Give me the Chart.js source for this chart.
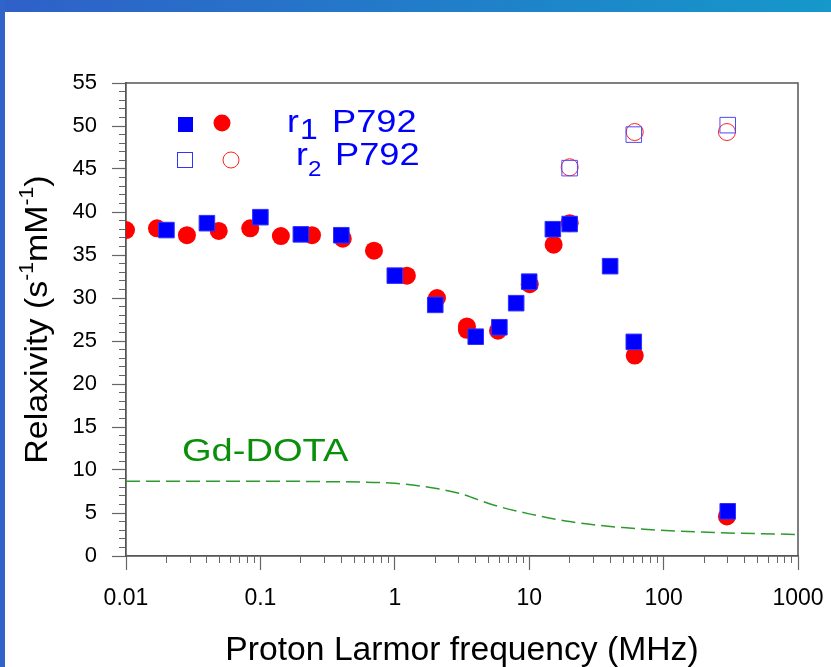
<!DOCTYPE html>
<html>
<head>
<meta charset="utf-8">
<script src="https://cdn.jsdelivr.net/npm/chart.js@4"></script>
<style>
  body { margin: 0; background: #fff; }
  #wrap { position: relative; width: 831px; height: 667px; overflow: hidden; background: #fff; }
  .band-top { position: absolute; left: 0; top: 0; width: 831px; height: 12px; background: linear-gradient(90deg, #2f60c8, #1598ca); }
  .band-left { position: absolute; left: 0; top: 0; width: 5px; height: 667px; background: #3064c9; }
  canvas { position: absolute; left: 0; top: 0; }
</style>
</head>
<body>
<div id="wrap">
  <div class="band-top"></div>
  <div class="band-left"></div>
  <canvas id="relaxChart" width="831" height="667"></canvas>
</div>
<script>
// r1 P792, filled squares
const r1SquareFreq = [0.02, 0.04, 0.1, 0.2, 0.4, 1.0, 2.0, 4.0, 6.0, 8.0, 10, 15, 20, 40, 60, 300];
const r1SquareVal  = [37.9, 38.7, 39.4, 37.4, 37.3, 32.6, 29.2, 25.5, 26.6, 29.4, 31.9, 38.0, 38.6, 33.7, 24.9, 5.2];
// r1 P792, filled circles
const r1CircleFreq = [0.01, 0.017, 0.0284, 0.049, 0.084, 0.142, 0.242, 0.41, 0.7, 1.23, 2.06, 3.44, 3.44, 5.86, 10.1, 15.2, 20, 61, 296];
const r1CircleVal  = [37.9, 38.1, 37.3, 37.8, 38.1, 37.2, 37.3, 36.9, 35.5, 32.6, 30.0, 26.7, 26.3, 26.2, 31.6, 36.2, 38.7, 23.3, 4.6];
// r2 P792, open squares / open circles
const r2SquareFreq = [20, 60, 300];
const r2SquareVal  = [45.1, 49.0, 50.1];
const r2CircleFreq = [20, 61, 296];
const r2CircleVal  = [45.2, 49.3, 49.3];
// Gd-DOTA reference curve
const dotaFreq = [0.01, 0.1, 0.3, 1, 1.6, 3, 5.5, 10, 20, 50, 175, 1000];
const dotaVal  = [8.7, 8.7, 8.65, 8.45, 8.1, 7.3, 5.9, 4.9, 4.0, 3.3, 2.8, 2.5];
// axes
const xDecades = [0.01, 0.1, 1, 10, 100, 1000];
const yMajor = 5;

const FONT = "'Liberation Sans', Arial, sans-serif";

function toPoints(xs, ys) {
    return xs.map((x, i) => ({ x: x, y: ys[i] }));
}

// minor log ticks 2..9 in each decade
const xMinor = [];
xDecades.slice(0, -1).forEach(d => {
    for (let k = 2; k <= 9; k++) xMinor.push(+(d * k).toPrecision(3));
});

// text stretched a bit wider, like the original slide
function wideText(ctx, txt, x, y, sx) {
    ctx.save();
    ctx.translate(x, y);
    ctx.scale(sx, 1);
    ctx.fillText(txt, 0, 0);
    ctx.restore();
}

// frame, titles, legend and label drawn on top
const decorPlugin = {
    id: 'decor',
    afterDraw(chart) {
        const ctx = chart.ctx;
        const a = chart.chartArea;
        ctx.save();
        // top and right frame
        ctx.strokeStyle = '#555';
        ctx.lineWidth = 1.5;
        ctx.beginPath();
        ctx.moveTo(a.left, a.top);
        ctx.lineTo(a.right, a.top);
        ctx.lineTo(a.right, a.bottom);
        ctx.stroke();

        // x title
        ctx.fillStyle = '#000';
        ctx.font = '33px ' + FONT;
        ctx.textAlign = 'center';
        ctx.textBaseline = 'alphabetic';
        wideText(ctx, 'Proton Larmor frequency (MHz)', (a.left + a.right) / 2, 660, 1.02);

        // y title with superscripts
        const parts = [
            { t: 'Relaxivity (s', sup: false },
            { t: '-1', sup: true },
            { t: 'mM', sup: false },
            { t: '-1', sup: true },
            { t: ')', sup: false }
        ];
        const sx = 1.06;
        let total = 0;
        parts.forEach(p => {
            ctx.font = (p.sup ? '20px ' : '32px ') + FONT;
            p.w = ctx.measureText(p.t).width * sx;
            total += p.w;
        });
        ctx.translate(47, (a.top + a.bottom) / 2);
        ctx.rotate(-Math.PI / 2);
        ctx.textAlign = 'left';
        let px = -total / 2;
        parts.forEach(p => {
            ctx.font = (p.sup ? '20px ' : '32px ') + FONT;
            wideText(ctx, p.t, px, p.sup ? -14 : 0, sx);
            px += p.w;
        });
        ctx.setTransform(1, 0, 0, 1, 0, 0);

        // Gd-DOTA label
        ctx.fillStyle = '#0a8f0a';
        ctx.font = '32px ' + FONT;
        ctx.textAlign = 'left';
        wideText(ctx, 'Gd-DOTA', a.left + 56, 461, 1.19);

        // legend
        ctx.fillStyle = '#0000ff';
        ctx.fillRect(178, 117, 15, 15);
        ctx.fillStyle = '#ff0000';
        ctx.beginPath();
        ctx.arc(222, 123, 8.5, 0, Math.PI * 2);
        ctx.fill();
        ctx.strokeStyle = '#3333ff';
        ctx.lineWidth = 1;
        ctx.strokeRect(177.5, 152.5, 15, 15);
        ctx.strokeStyle = '#ff2020';
        ctx.beginPath();
        ctx.arc(231, 160, 8, 0, Math.PI * 2);
        ctx.stroke();

        ctx.fillStyle = '#0000ff';
        ctx.font = '31px ' + FONT;
        wideText(ctx, 'r', 287, 132, 1.15);
        wideText(ctx, 'P792', 332, 132, 1.17);
        ctx.font = '29px ' + FONT;
        wideText(ctx, '1', 300, 139, 1.1);
        ctx.font = '31px ' + FONT;
        wideText(ctx, 'r', 296, 165, 1.15);
        wideText(ctx, 'P792', 335, 165, 1.17);
        ctx.font = '22px ' + FONT;
        wideText(ctx, '2', 308, 176, 1.1);
        ctx.restore();
    }
};

function noSidePadding(s) {
    s.paddingLeft = 0;
    s.paddingRight = 0;
}

new Chart(document.getElementById('relaxChart'), {
    type: 'scatter',
    data: {
        datasets: [
            {
                label: 'r1 P792 (squares)',
                data: toPoints(r1SquareFreq, r1SquareVal),
                pointStyle: 'rect',
                pointRadius: 11,
                backgroundColor: '#0000ff',
                borderColor: '#3030ff',
                borderWidth: 1
            },
            {
                label: 'r2 P792 (squares)',
                data: toPoints(r2SquareFreq, r2SquareVal),
                pointStyle: 'rect',
                pointRadius: 11,
                backgroundColor: 'rgba(0,0,0,0)',
                borderColor: '#4a4aff',
                borderWidth: 1
            },
            {
                label: 'r1 P792 (circles)',
                data: toPoints(r1CircleFreq, r1CircleVal),
                pointStyle: 'circle',
                pointRadius: 9,
                backgroundColor: '#ff0000',
                borderColor: '#ff0000',
                borderWidth: 0
            },
            {
                label: 'r2 P792 (circles)',
                data: toPoints(r2CircleFreq, r2CircleVal),
                pointStyle: 'circle',
                pointRadius: 8.5,
                backgroundColor: 'rgba(0,0,0,0)',
                borderColor: '#ff2020',
                borderWidth: 1
            },
            {
                label: 'Gd-DOTA',
                data: toPoints(dotaFreq, dotaVal),
                showLine: true,
                pointRadius: 0,
                borderColor: '#2e9a2e',
                borderWidth: 1.5,
                borderDash: [14, 6],
                cubicInterpolationMode: 'monotone',
                fill: false
            }
        ]
    },
    options: {
        responsive: false,
        animation: false,
        events: [],
        layout: { padding: { left: 0, top: 83, right: 33, bottom: 0 } },
        plugins: {
            legend: { display: false },
            tooltip: { enabled: false }
        },
        scales: {
            x: {
                type: 'logarithmic',
                position: 'bottom',
                weight: 1,
                min: 0.01,
                max: 1000,
                afterBuildTicks: s => { s.ticks = xDecades.map(v => ({ value: v })); },
                afterFit: s => { s.height = 111; noSidePadding(s); },
                border: { color: '#555', width: 1.5 },
                grid: { drawOnChartArea: false, tickLength: 14, color: '#666', tickWidth: 1.2 },
                ticks: {
                    autoSkip: false,
                    maxRotation: 0,
                    padding: 15,
                    color: '#000',
                    font: { family: FONT, size: 23 },
                    callback: v => String(v)
                }
            },
            xMinor: {
                type: 'logarithmic',
                position: 'bottom',
                weight: 0,
                min: 0.01,
                max: 1000,
                afterBuildTicks: s => { s.ticks = xMinor.map(v => ({ value: v })); },
                afterFit: s => { s.height = 0; noSidePadding(s); },
                border: { color: '#555', width: 1.5 },
                grid: { drawOnChartArea: false, tickLength: 7, color: '#666' },
                ticks: { display: false }
            },
            y: {
                type: 'linear',
                position: 'left',
                weight: 1,
                min: 0,
                max: 55,
                afterFit: s => { s.width = 126; s.paddingTop = 0; s.paddingBottom = 0; },
                border: { color: '#555', width: 1.5 },
                grid: { drawOnChartArea: false, tickLength: 14, color: '#666', tickWidth: 1.2 },
                ticks: {
                    stepSize: yMajor,
                    padding: 15,
                    color: '#000',
                    font: { family: FONT, size: 22 }
                }
            },
            yMinor: {
                type: 'linear',
                position: 'left',
                weight: 0,
                min: 0,
                max: 55,
                afterFit: s => { s.width = 0; },
                border: { color: '#555', width: 1.5 },
                grid: { drawOnChartArea: false, tickLength: 7, color: '#666' },
                ticks: { stepSize: 1, display: false }
            }
        }
    },
    plugins: [decorPlugin]
});
</script>
</body>
</html>
